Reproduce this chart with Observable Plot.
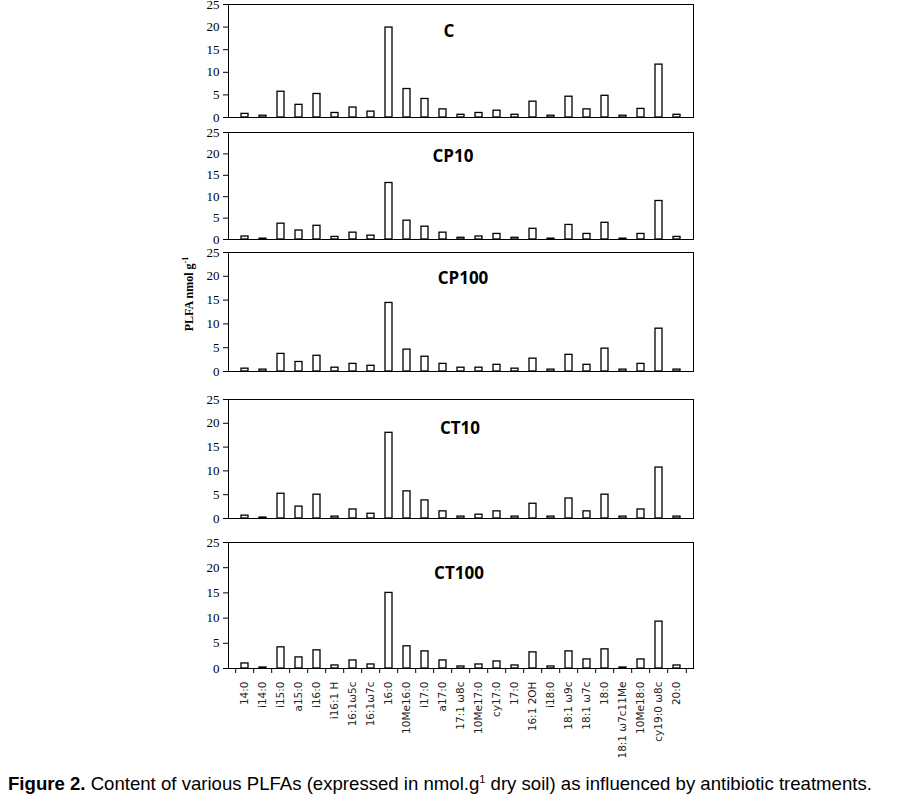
<!DOCTYPE html>
<html>
<head>
<meta charset="utf-8">
<script src="https://cdn.jsdelivr.net/npm/d3@7"></script>
<script src="https://cdn.jsdelivr.net/npm/@observablehq/plot@0.6"></script>
<style>
  html, body { margin: 0; padding: 0; background: #fff; }
  #wrap { position: relative; width: 900px; height: 794px; overflow: hidden; }
  .panel { position: absolute; left: 0; }
  #ylab { position: absolute; left: 189px; top: 294px; transform: translate(-50%, -50%) rotate(-90deg);
          font-family: "Liberation Serif", serif; font-weight: bold; font-size: 12px; white-space: nowrap; }
  #ylab sup { font-size: 8px; }
  #caption { position: absolute; left: 8px; top: 768px; font-family: "Liberation Sans Narrow", "Liberation Sans", Arial, sans-serif;
             font-size: 18.6px; line-height: 22px; white-space: nowrap; color: #000; }
  #caption sup { font-size: 11px; }
</style>
</head>
<body>
<div id="wrap">
  <div id="ylab">PLFA nmol g<sup>-1</sup></div>
  <div id="caption"><b>Figure 2.</b> Content of various PLFAs (expressed in nmol.g<sup>1</sup> dry soil) as influenced by antibiotic treatments.</div>
</div>
<script>
const categories = ["14:0","i14:0","i15:0","a15:0","i16:0","i16:1 H","16:1ω5c","16:1ω7c","16:0","10Me16:0","i17:0","a17:0","17:1 ω8c","10Me17:0","cy17:0","17:0","16:1 2OH","i18:0","18:1 ω9c","18:1 ω7c","18:0","18:1 ω7c11Me","10Me18:0","cy19:0 ω8c","20:0"];

const treatments = ["C", "CP10", "CP100", "CT10", "CT100"];

const valuesC     = [0.8, 0.4, 5.7, 2.8, 5.2, 1.0, 2.2, 1.3, 19.9, 6.3, 4.1, 1.8, 0.6, 1.0, 1.5, 0.6, 3.5, 0.4, 4.6, 1.8, 4.8, 0.4, 1.9, 11.7, 0.6];
const valuesCP10  = [0.7, 0.2, 3.7, 2.1, 3.2, 0.6, 1.6, 0.9, 13.2, 4.4, 3.0, 1.6, 0.4, 0.7, 1.3, 0.4, 2.5, 0.2, 3.4, 1.3, 3.9, 0.2, 1.3, 9.0, 0.6];
const valuesCP100 = [0.6, 0.4, 3.7, 2.0, 3.3, 0.8, 1.6, 1.2, 14.4, 4.6, 3.1, 1.6, 0.8, 0.8, 1.4, 0.6, 2.7, 0.4, 3.5, 1.4, 4.8, 0.4, 1.6, 9.0, 0.4];
const valuesCT10  = [0.6, 0.2, 5.2, 2.5, 5.0, 0.4, 1.9, 1.0, 18.0, 5.7, 3.8, 1.5, 0.4, 0.8, 1.5, 0.4, 3.1, 0.4, 4.2, 1.5, 5.0, 0.4, 1.9, 10.7, 0.4];
const valuesCT100 = [1.0, 0.2, 4.2, 2.2, 3.6, 0.6, 1.6, 0.8, 15.0, 4.4, 3.4, 1.6, 0.4, 0.8, 1.4, 0.6, 3.2, 0.4, 3.4, 1.8, 3.8, 0.2, 1.8, 9.3, 0.6];

const yTicks = [0, 5, 10, 15, 20, 25];

const seriesList = [valuesC, valuesCP10, valuesCP100, valuesCT10, valuesCT100];

// layout (pixels): frame top / bottom, title offsets
const frameTop    = [4, 132, 252, 399, 542];
const frameBottom = [117, 239, 371, 518, 668];
const titleDy     = [27, 24, 26, 29, 31];
const titleDx     = [-12, -8, 2, -1, -2];

const wrap = document.getElementById("wrap");
const mTop = 12;
const frameLeft = 228, frameRight = 693;
const step = (frameRight - frameLeft) / categories.length;

treatments.forEach((t, i) => {
  const isLast = i === treatments.length - 1;
  const mBottom = isLast ? 100 : 4;
  const data = categories.map((c, j) => ({name: c, value: seriesList[i][j]}));
  const marks = [
    Plot.frame({stroke: "black", strokeWidth: 1}),
    Plot.barY(data, {x: "name", y: "value", fill: "white", stroke: "black", strokeWidth: 1.3}),
    Plot.axisY({ticks: yTicks, tickSize: 5, tickPadding: 4, fontSize: 13, fontFamily: "Liberation Serif"}),
    Plot.text([t], {text: d => d, frameAnchor: "top", dy: titleDy[i], dx: titleDx[i], lineAnchor: "middle",
                    fontSize: 17, fontWeight: "bold", fontFamily: "Open Sans", fill: "black"})
  ];
  if (isLast) {
    marks.push(
      Plot.axisX({tickSize: 5, tickFormat: () => "", dx: -step / 2}),
      Plot.axisX({ticks: [categories[categories.length - 1]], tickSize: 5, tickFormat: () => "", dx: step / 2}),
      Plot.axisX({tickSize: 0, tickPadding: 13, tickRotate: -90, fontSize: 10.5, fontFamily: "DejaVu Sans", fill: "#222"})
    );
  } else {
    marks.push(Plot.axisX({ticks: [], label: null}));
  }
  const chart = Plot.plot({
    width: 900,
    height: (frameBottom[i] - frameTop[i]) + mTop + mBottom,
    marginLeft: frameLeft,
    marginRight: 900 - frameRight,
    marginTop: mTop,
    marginBottom: mBottom,
    style: {background: "transparent", color: "black", overflow: "visible"},
    x: {domain: categories, paddingInner: 0.6, paddingOuter: 0.3, label: null},
    y: {domain: [0, 25], label: null},
    marks
  });
  const div = document.createElement("div");
  div.className = "panel";
  div.style.top = (frameTop[i] - mTop) + "px";
  div.appendChild(chart);
  wrap.appendChild(div);
});
</script>
</body>
</html>
